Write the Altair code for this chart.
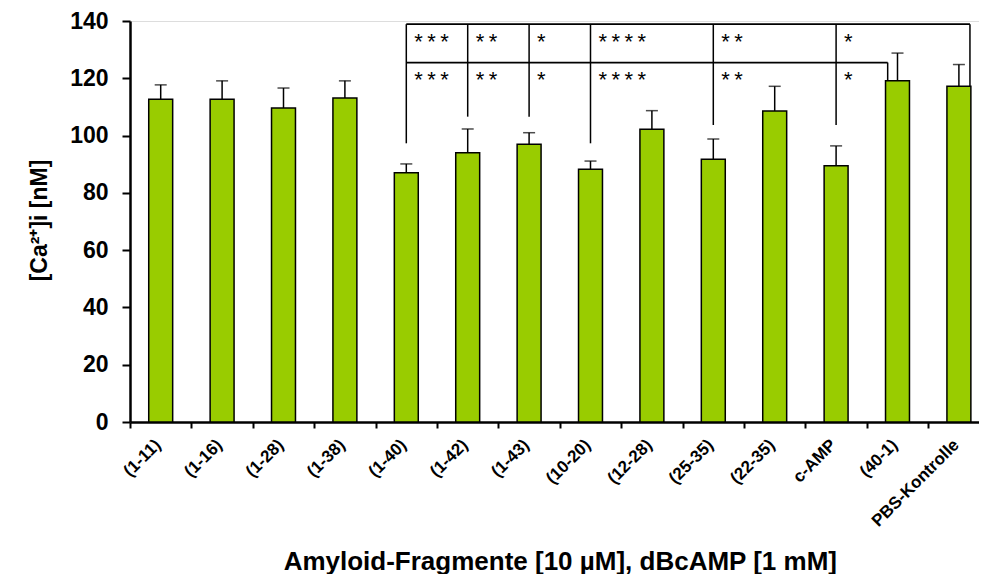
import altair as alt
import pandas as pd

# ---- data ----
categories = ["(1-11)", "(1-16)", "(1-28)", "(1-38)", "(1-40)", "(1-42)", "(1-43)",
              "(10-20)", "(12-28)", "(25-35)", "(22-35)", "c-AMP", "(40-1)", "PBS-Kontrolle"]
values = [112.7, 112.7, 109.6, 113.1, 87.0, 94.0, 97.0, 88.2, 102.2, 91.7, 108.6, 89.5, 119.1, 117.2]
errors = [5.0, 6.4, 7.0, 6.0, 3.1, 8.3, 4.0, 2.9, 6.5, 7.1, 8.6, 6.9, 9.7, 7.6]

# significance brackets
sig_groups = ["(1-40)", "(1-42)", "(1-43)", "(10-20)", "(25-35)", "c-AMP"]
sig_labels = ["***", "**", "*", "****", "**", "*"]
sig_drop = [97.3, 106.6, 106.6, 97.3, 103.7, 103.7]
ref_top = "PBS-Kontrolle"
ref_mid = "(40-1)"
bracket_top = 138.9
bracket_mid = 125.5
star_top = 132.8
star_mid = 119.4

FONT = "Liberation Sans"
GREEN = "#99CC00"

bars_df = pd.DataFrame({
    "cat": categories,
    "value": values,
    "upper": [v + e for v, e in zip(values, errors)],
})

val = dict(zip(categories, values))

drops_df = pd.DataFrame({"cat": sig_groups, "y": sig_drop, "y2": [bracket_top] * len(sig_groups)})

top_h = pd.DataFrame({"cat": [sig_groups[0]], "cat2": [ref_top], "y": [bracket_top]})
mid_h = pd.DataFrame({"cat": [sig_groups[0]], "cat2": [ref_mid], "y": [bracket_mid]})
top_v = pd.DataFrame({"cat": [ref_top], "y": [val[ref_top]], "y2": [bracket_top]})
mid_v = pd.DataFrame({"cat": [ref_mid], "y": [val[ref_mid]], "y2": [bracket_mid]})

stars_df = pd.DataFrame({
    "cat": sig_groups * 2,
    "label": [s.replace("*", "*\u2009").strip() for s in sig_labels] * 2,
    "y": [star_top] * len(sig_groups) + [star_mid] * len(sig_groups),
})

xscale = alt.Scale(domain=categories, range=[0, 859.6], paddingInner=0, paddingOuter=0)
yscale = alt.Scale(domain=[0, 140])

xaxis = alt.Axis(
    title="Amyloid-Fragmente [10 µM], dBcAMP [1 mM]",
    titleFont=FONT, titleFontSize=26, titleFontWeight="bold", titleColor="black",
    titleY=147, titleBaseline="alphabetic",
    labelFont=FONT, labelFontSize=17, labelFontWeight="bold", labelColor="black",
    labelAngle=-45, labelAlign="right", labelBaseline="middle", labelPadding=14,
    labelOffset=-3,
    tickBand="extent", tickSize=6, tickWidth=2, tickColor="black",
    domainColor="black", domainWidth=2.5, grid=False,
)
yaxis = alt.Axis(
    title="[Ca²⁺]i [nM]",
    titleFont=FONT, titleFontSize=23, titleFontWeight="bold", titleColor="black",
    titleAngle=-90, titleX=-84, titleY=199, titleAlign="center", titleBaseline="alphabetic",
    labelFont=FONT, labelFontSize=23, labelFontWeight="bold", labelColor="black",
    labelPadding=14, values=[0, 20, 40, 60, 80, 100, 120, 140],
    tickSize=8, tickWidth=2, tickColor="black",
    domainColor="black", domainWidth=2.5, grid=False,
)

base_x = alt.X("cat:N", scale=xscale, axis=xaxis)

err_rule = alt.Chart(bars_df).mark_rule(color="black", strokeWidth=1.5).encode(
    x=alt.X("cat:N"), y=alt.Y("value:Q"), y2="upper:Q"
)
err_cap = alt.Chart(bars_df).mark_tick(color="black", size=12, thickness=1.5).encode(
    x=alt.X("cat:N"), y=alt.Y("upper:Q")
)
bars = alt.Chart(bars_df).mark_bar(
    width={"band": 0.39}, fill=GREEN, stroke="black", strokeWidth=1.5
).encode(
    x=base_x, y=alt.Y("value:Q", scale=yscale, axis=yaxis)
)

drops = alt.Chart(drops_df).mark_rule(color="black", strokeWidth=1.5).encode(
    x=alt.X("cat:N"), y="y:Q", y2="y2:Q"
)
h_top = alt.Chart(top_h).mark_rule(color="black", strokeWidth=1.8).encode(
    x=alt.X("cat:N", bandPosition=0.5), x2=alt.X2("cat2:N", bandPosition=0.68), y="y:Q"
)
h_mid = alt.Chart(mid_h).mark_rule(color="black", strokeWidth=1.8).encode(
    x=alt.X("cat:N", bandPosition=0.5), x2=alt.X2("cat2:N", bandPosition=0.34), y="y:Q"
)
v_top = alt.Chart(top_v).mark_rule(color="black", strokeWidth=1.5).encode(
    x=alt.X("cat:N", bandPosition=0.68), y="y:Q", y2="y2:Q"
)
v_mid = alt.Chart(mid_v).mark_rule(color="black", strokeWidth=1.5).encode(
    x=alt.X("cat:N", bandPosition=0.34), y="y:Q", y2="y2:Q"
)
stars = alt.Chart(stars_df).mark_text(
    align="left", baseline="middle", dx=8, font=FONT, fontSize=22, color="black"
).encode(x=alt.X("cat:N"), y="y:Q", text="label:N")

chart = alt.layer(
    err_rule, err_cap, bars, drops, h_top, h_mid, v_top, v_mid, stars
).properties(
    width=849, height=401,
    autosize=alt.AutoSizeParams(type="none"),
    padding={"left": 122, "top": 13, "right": 0, "bottom": 152},
).configure_view(stroke=None).configure(background="white")

chart.save("out.html", embed_options={"renderer": "svg", "actions": False})
